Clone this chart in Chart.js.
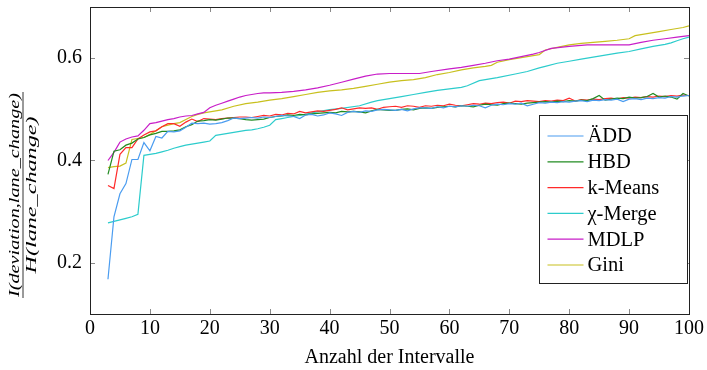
<!DOCTYPE html>
<html>
<head>
<meta charset="utf-8">
<script src="https://cdn.jsdelivr.net/npm/chart.js@4/dist/chart.umd.min.js"></script>
<style>
html,body{margin:0;padding:0;background:#fff;}
canvas{display:block;}
</style>
</head>
<body>
<canvas id="c" width="707" height="370"></canvas>
<script>
// ---- data ----
const intervals = [3,4,5,6,7,8,9,10,11,12,13,14,15,16,17,18,19,20,21,22,23,24,25,26,27,28,29,30,31,32,33,34,35,36,37,38,39,40,41,42,43,44,45,46,47,48,49,50,51,52,53,54,55,56,57,58,59,60,61,62,63,64,65,66,67,68,69,70,71,72,73,74,75,76,77,78,79,80,81,82,83,84,85,86,87,88,89,90,91,92,93,94,95,96,97,98,99,100];

const addValues = [.168,.290,.335,.355,.402,.402,.435,.419,.447,.444,.457,.456,.458,.465,.473,.472,.473,.471,.472,.474,.478,.483,.482,.483,.484,.483,.485,.484,.486,.488,.487,.486,.482,.489,.490,.487,.489,.493,.491,.488,.494,.496,.494,.497,.496,.499,.500,.499,.498,.500,.497,.501,.503,.503,.502,.505,.503,.506,.505,.507,.506,.508,.507,.503,.508,.510,.509,.511,.510,.512,.507,.510,.513,.512,.514,.513,.515,.514,.516,.517,.515,.518,.517,.519,.518,.520,.515,.520,.521,.519,.522,.521,.523,.522,.525,.524,.526,.527];

const hbdValues = [.373,.418,.421,.430,.434,.442,.445,.450,.453,.457,.457,.458,.460,.466,.470,.477,.478,.480,.479,.481,.483,.483,.482,.480,.479,.480,.481,.484,.486,.487,.489,.488,.490,.489,.491,.492,.493,.494,.493,.496,.495,.496,.495,.493,.497,.500,.499,.498,.498,.500,.501,.499,.502,.503,.502,.504,.505,.506,.505,.507,.506,.505,.508,.510,.509,.508,.511,.512,.511,.510,.512,.513,.514,.515,.514,.516,.515,.517,.516,.518,.517,.521,.527,.518,.520,.522,.521,.524,.522,.523,.525,.531,.524,.526,.524,.520,.531,.526];

const kmeansValues = [.351,.345,.412,.425,.425,.442,.450,.456,.458,.466,.472,.472,.467,.475,.481,.476,.482,.481,.480,.482,.483,.484,.485,.485,.484,.486,.488,.487,.490,.489,.492,.491,.496,.493,.495,.497,.496,.498,.500,.503,.499,.501,.503,.502,.503,.500,.504,.505,.506,.504,.507,.506,.504,.507,.506,.508,.507,.510,.508,.507,.509,.511,.510,.512,.511,.513,.514,.512,.516,.515,.517,.516,.515,.517,.516,.518,.517,.522,.516,.519,.518,.520,.519,.521,.522,.520,.523,.522,.524,.523,.525,.524,.526,.525,.527,.526,.528,.527];

const chiX = [3,4,5,6,7,8,9,10,11,12,13,14,15,16,17,18,19,20,21,22,23,24,25,26,27,28,29,30,31,32,33,35,37,40,42,45,47,48,50,52,54,56,58,60,62,63,65,68,71,73,75,76,78,80,82,85,88,90,92,94,96,97,98,99,100];
const chiValues = [.278,.281,.284,.287,.290,.295,.410,.412,.414,.417,.420,.424,.427,.430,.432,.434,.436,.438,.449,.451,.453,.455,.457,.459,.460,.462,.465,.469,.480,.482,.484,.488,.493,.4995,.502,.507,.514,.517,.521,.525,.529,.533,.537,.540,.543,.546,.556,.562,.569,.574,.581,.584,.590,.594,.598,.604,.610,.613,.618,.623,.627,.630,.634,.638,.641];

const mdlpX = [3,4,5,6,7,8,9,10,11,12,13,14,15,16,17,18,19,20,21,22,23,24,25,26,27,28,29,30,32,34,36,38,40,42,44,46,48,50,52,55,57,60,62,64,66,68,70,72,74,75,77,80,83,90,92,94,96,98,100];
const mdlpValues = [.400,.416,.436,.442,.446,.448,.459,.472,.474,.477,.480,.482,.485,.487,.488,.491,.494,.503,.508,.512,.516,.520,.524,.527,.529,.531,.532,.532,.533,.535,.538,.542,.547,.553,.559,.565,.569,.570,.570,.570,.574,.579,.582,.586,.590,.595,.598,.603,.608,.611,.619,.623,.626,.626,.631,.635,.638,.641,.644];

const giniX = [3,4,5,6,7,8,9,10,11,12,13,14,15,16,17,18,19,20,22,24,26,28,30,32,34,36,38,40,42,44,46,48,50,52,54,56,58,60,62,64,66,67,68,70,72,74,75,76,78,80,82,84,86,88,90,91,93,95,97,99,100];
const giniValues = [.386,.388,.389,.395,.441,.443,.445,.451,.458,.466,.469,.472,.474,.480,.486,.490,.493,.495,.499,.506,.511,.514,.518,.521,.525,.529,.533,.536,.538,.541,.545,.549,.553,.556,.558,.562,.568,.572,.577,.581,.584,.586,.592,.597,.601,.605,.607,.616,.621,.626,.629,.631,.633,.635,.638,.644,.648,.652,.656,.660,.663];

const seriesNames = ['ÄDD','HBD','k-Means','χ-Merge','MDLP','Gini'];
const seriesColors = ['#4a9cf0','#228b22','#ff2a2a','#2ccccc','#c81ec8','#c8c01e'];
const xTicks = [0,10,20,30,40,50,60,70,80,90,100];
const yTicks = [0.2,0.4,0.6];
const xTitle = 'Anzahl der Intervalle';
const yNumerator = 'I(deviation,lane_change)';
const yDenominator = 'H(lane_change)';

function pts(xs, ys){ return xs.map((x,i)=>({x:x, y:ys[i]})); }

const seriesData = [
  pts(intervals, addValues),
  pts(intervals, hbdValues),
  pts(intervals, kmeansValues),
  pts(chiX, chiValues),
  pts(mdlpX, mdlpValues),
  pts(giniX, giniValues)
];

const FONT = "'Liberation Serif','DejaVu Serif',serif";

function stretchedText(ctx, txt, y, targetLen){
  const w = ctx.measureText(txt).width;
  ctx.save();
  ctx.scale(targetLen / w, 1);
  ctx.fillText(txt, 0, y);
  ctx.restore();
}

const framePlugin = {
  id: 'frame',
  afterDatasetsDraw(chart){
    const ctx = chart.ctx, a = chart.chartArea;
    const xs = chart.scales.x, ys = chart.scales.y;
    ctx.save();
    // ticks (inside)
    ctx.strokeStyle = '#8a8a8a';
    ctx.lineWidth = 1;
    ctx.beginPath();
    xTicks.forEach(v=>{
      const px = Math.round(xs.getPixelForValue(v)) + 0.5;
      ctx.moveTo(px, a.bottom); ctx.lineTo(px, a.bottom - 5);
      ctx.moveTo(px, a.top); ctx.lineTo(px, a.top + 5);
    });
    yTicks.forEach(v=>{
      const py = Math.round(ys.getPixelForValue(v)) + 0.5;
      ctx.moveTo(a.left, py); ctx.lineTo(a.left + 5, py);
      ctx.moveTo(a.right, py); ctx.lineTo(a.right - 5, py);
    });
    ctx.stroke();
    // frame
    ctx.strokeStyle = '#222';
    ctx.lineWidth = 1;
    ctx.strokeRect(Math.round(a.left)+0.5, Math.round(a.top)+0.5, Math.round(a.right-a.left), Math.round(a.bottom-a.top));

    // legend
    const lx = Math.round(a.right) - 149.5, ly = 115.5, lw = 148, lh = 168;
    ctx.fillStyle = '#fff';
    ctx.fillRect(lx, ly, lw, lh);
    ctx.strokeStyle = '#222';
    ctx.strokeRect(lx, ly, lw, lh);
    ctx.font = '20.5px ' + FONT;
    ctx.textBaseline = 'middle';
    ctx.textAlign = 'left';
    chart.data.datasets.forEach((ds,i)=>{
      const cy = ly + 20.5 + i*25.8;
      ctx.strokeStyle = ds.borderColor;
      ctx.lineWidth = 1.2;
      ctx.beginPath();
      ctx.moveTo(lx + 8, cy); ctx.lineTo(lx + 44, cy);
      ctx.stroke();
      ctx.fillStyle = '#000';
      ctx.fillText(ds.label, lx + 48, cy + 1);
    });

    // y-axis label as fraction
    const cy = 195;
    const bx = 23;
    ctx.translate(bx, cy);
    ctx.rotate(-Math.PI/2);
    ctx.font = 'italic 15px ' + FONT;
    ctx.fillStyle = '#000';
    ctx.textAlign = 'center';
    ctx.textBaseline = 'alphabetic';
    stretchedText(ctx, yNumerator, -4, 204);
    stretchedText(ctx, yDenominator, 13, 157);
    ctx.strokeStyle = '#000';
    ctx.lineWidth = 0.8;
    ctx.beginPath();
    ctx.moveTo(-103, 0); ctx.lineTo(103, 0);
    ctx.stroke();
    ctx.restore();
  }
};

new Chart(document.getElementById('c'), {
  type: 'line',
  data: {
    datasets: seriesData.map((d,i)=>({
      label: seriesNames[i],
      data: d,
      borderColor: seriesColors[i],
      backgroundColor: seriesColors[i],
      borderWidth: 1.2,
      pointRadius: 0,
      fill: false,
      tension: 0
    }))
  },
  options: {
    responsive: false,
    animation: false,
    devicePixelRatio: 1,
    layout: { padding: { left: 0, right: 18, top: 7, bottom: 0 } },
    plugins: { legend: { display: false }, tooltip: { enabled: false } },
    scales: {
      x: {
        type: 'linear', min: 0, max: 100,
        grid: { display: false, drawTicks: false },
        border: { display: false },
        afterBuildTicks(s){ s.ticks = xTicks.map(v=>({value:v})); },
        afterFit(s){ s.height = 56; s.paddingLeft = 0; s.paddingRight = 0; },
        ticks: { color: '#000', font: { family: FONT, size: 20 }, padding: 3, maxRotation: 0,
          callback: v => String(v) },
        title: { display: true, text: xTitle, color: '#000', font: { family: FONT, size: 20 }, padding: { top: 0, bottom: 0 } }
      },
      y: {
        type: 'linear', min: 0.1, max: 0.7,
        grid: { display: false, drawTicks: false },
        border: { display: false },
        afterBuildTicks(s){ s.ticks = yTicks.map(v=>({value:v})); },
        afterFit(s){ s.width = 90; s.paddingTop = 0; s.paddingBottom = 0; },
        ticks: { color: '#000', font: { family: FONT, size: 20 }, padding: 8,
          callback: v => Number(v).toFixed(1) }
      }
    }
  },
  plugins: [framePlugin]
});
</script>
</body>
</html>
